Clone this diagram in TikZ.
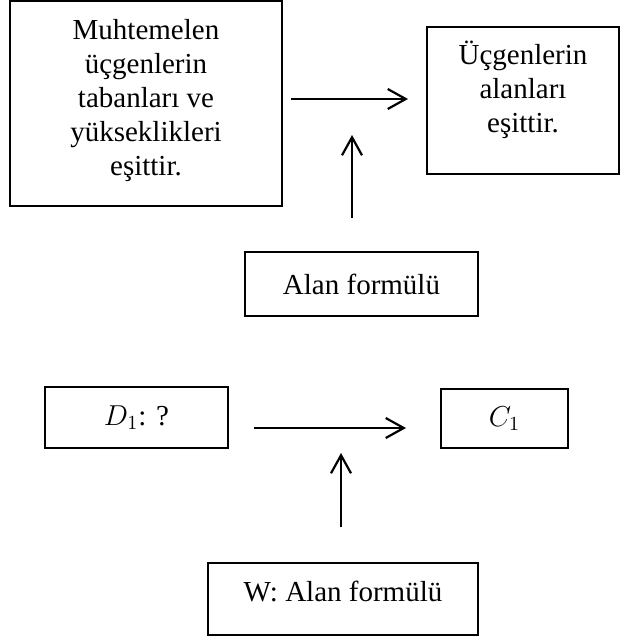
\documentclass[tikz,border=0pt]{standalone}
\usepackage{fontspec}
\setmainfont{Liberation Serif}
\usetikzlibrary{arrows.meta,positioning}

\tikzset{
	box/.style={rectangle, draw, line width=1pt, align=center, inner sep=0pt, font=\fontsize{14.5}{17}\selectfont},
	arr/.style={-{Straight Barb[length=9pt,width=10pt,line width=1.1pt]}, line width=1.1pt}
}

\begin{document}
\begin{tikzpicture}[x=0.5pt,y=-0.5pt]
\useasboundingbox (0,0) rectangle (620,637);

% upper part
\node[box, minimum width=136pt, minimum height=102.5pt, text depth=6pt] (hyp) at (146,103.5) {Muhtemelen\\üçgenlerin\\tabanları ve\\yükseklikleri\\eşittir.};
\node[box, minimum width=96pt, minimum height=73.5pt, text depth=14pt] (res) at (523,100.5) {Üçgenlerin\\alanları\\eşittir.};
\node[box, minimum width=116.5pt, minimum height=32pt] (frm) at (361.5,284) {Alan formülü};

\coordinate (h1) at (291,99);
\coordinate (h2) at (408,99);
\coordinate (v1) at (352,218);
\coordinate (v2) at (352,135);

\draw[arr] (h1) -- (h2);
\draw[arr] (v1) -- (v2);

% lower part
\node[box, minimum width=91.5pt, minimum height=30.5pt] (dat) at (136.5,417.5) {$D_1$: ?};
\node[box, minimum width=63.5pt, minimum height=29.5pt] (cla) at (504.5,418.5) {$C_1$};
\node[box, minimum width=135pt, minimum height=36pt, text depth=8pt] (war) at (343,599) {W: Alan formülü};

\coordinate (g1) at (254,428);
\coordinate (g2) at (406,428);
\coordinate (w1) at (341,527);
\coordinate (w2) at (341,453);

\draw[arr] (g1) -- (g2);
\draw[arr] (w1) -- (w2);

\end{tikzpicture}
\end{document}
